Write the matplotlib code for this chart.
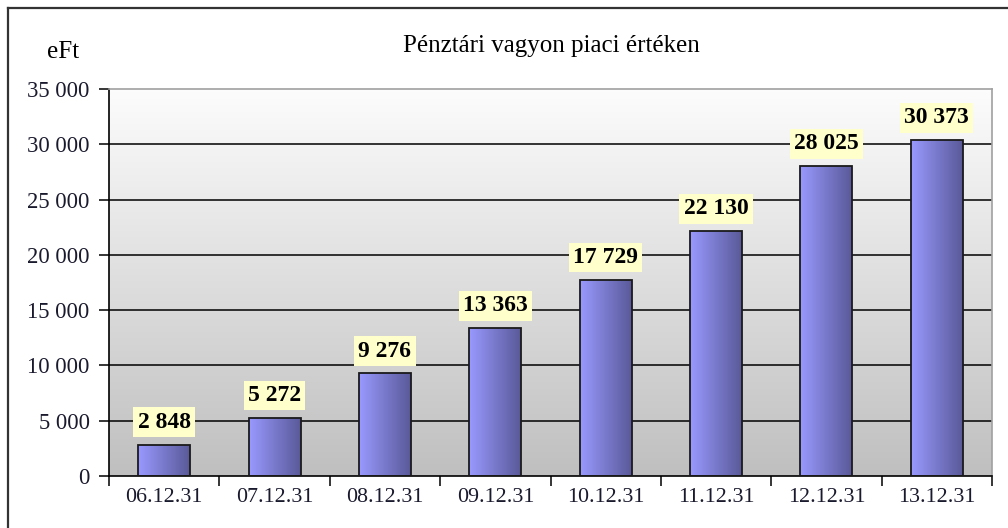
import numpy as np
import matplotlib.pyplot as plt
from matplotlib.lines import Line2D

plt.rcParams['font.family'] = ['Liberation Serif', 'DejaVu Serif']

dates = ['06.12.31', '07.12.31', '08.12.31', '09.12.31',
         '10.12.31', '11.12.31', '12.12.31', '13.12.31']
values = [2848, 5272, 9276, 13363, 17729, 22130, 28025, 30373]
yticks = [0, 5000, 10000, 15000, 20000, 25000, 30000, 35000]


def hu(n):
    # thousands separated with a space
    return f'{n:,}'.replace(',', ' ')


W, H = 1008, 528
fig = plt.figure(figsize=(W / 100, H / 100), dpi=100)
ax = fig.add_axes([109 / W, 1 - 476 / H, (992 - 109) / W, (476 - 89) / H])

x = np.arange(len(dates))
n = len(dates)

# background gradient, white at top to grey at bottom
grad = np.linspace(0.99, 0.75, 256).reshape(-1, 1)
ax.imshow(np.dstack([grad, grad, grad]), extent=[-0.5, n - 0.5, 0, 35000],
          origin='upper', aspect='auto', zorder=0)

for yv in yticks[1:-1]:
    ax.axhline(yv, color='black', lw=1.1, zorder=1)

bars = ax.bar(x, values, width=0.47, facecolor='none', edgecolor='#1a1a1a',
              lw=1.3, zorder=3)

# horizontal gradient inside each bar
c1 = np.array([0.60, 0.60, 1.00])
c2 = np.array([0.35, 0.35, 0.60])
t = np.linspace(0, 1, 128)
bar_grad = (c1[None, :] * (1 - t[:, None]) + c2[None, :] * t[:, None])[None, :, :]
for b in bars:
    x0, w, h = b.get_x(), b.get_width(), b.get_height()
    im = ax.imshow(bar_grad, extent=[x0, x0 + w, 0, h], aspect='auto', zorder=2)
    im.set_clip_path(b)

ax.set_xlim(-0.5, n - 0.5)
ax.set_ylim(0, 35000)

for xi, v in zip(x, values):
    ax.annotate(hu(v), (xi, v), xytext=(0, 8.5), textcoords='offset points',
                ha='center', va='bottom', fontsize=17, fontweight='bold',
                bbox=dict(boxstyle='square,pad=0.18', fc='#ffffcc', ec='none'),
                zorder=5)

ax.set_yticks(yticks)
ax.set_yticklabels([hu(v) for v in yticks], fontsize=16.3, color='#1a1a2e')
ax.set_xticks(x)
ax.set_xticklabels(dates, fontsize=15.8, color='#1a1a2e')
ax.tick_params(axis='x', length=0, pad=9)
ax.tick_params(axis='y', length=7, width=1.1, pad=7)
ax.set_xticks(np.arange(-0.5, n), minor=True)
ax.tick_params(axis='x', which='minor', length=7, width=1.1)

for s in ['top', 'right']:
    ax.spines[s].set_color('#a0a0a0')
    ax.spines[s].set_linewidth(1.2)
for s in ['left', 'bottom']:
    ax.spines[s].set_color('black')
    ax.spines[s].set_linewidth(1.2)

fig.text(551 / W, 1 - 46 / H, 'Pénztári vagyon piaci értéken', ha='center',
         va='center', fontsize=18)
fig.text(63 / W, 1 - 52 / H, 'eFt', ha='center', va='center', fontsize=18)

# outer chart border
fig.add_artist(Line2D([8 / W, 1], [1 - 8 / H, 1 - 8 / H], color='#333333', lw=1.6))
fig.add_artist(Line2D([8 / W, 8 / W], [0, 1 - 8 / H], color='#333333', lw=1.6))

fig.savefig('out.png', dpi=100)
